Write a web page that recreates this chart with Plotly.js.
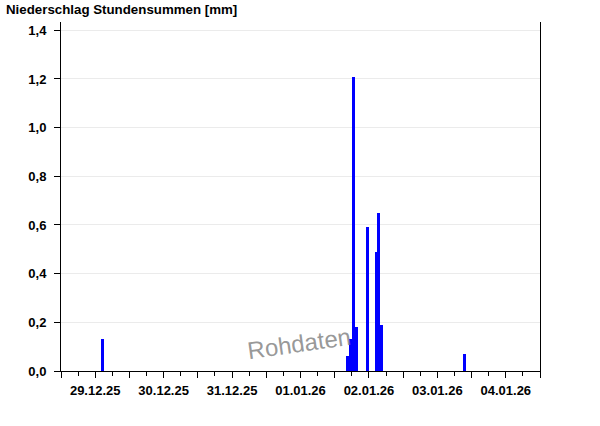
<!DOCTYPE html>
<html>
<head>
<meta charset="utf-8">
<script src="https://cdn.plot.ly/plotly-3.0.1.min.js"></script>
<style>
  html, body { margin: 0; padding: 0; background: #fff; }
  #chart { width: 600px; height: 426px; }
</style>
</head>
<body>
<div id="chart"></div>
<script>
// Hourly precipitation sums (bar centre times) and values in mm
const barTimes = [
  '2025-12-29 14:30',
  '2026-01-02 04:30', '2026-01-02 05:30', '2026-01-02 06:30', '2026-01-02 07:30',
  '2026-01-02 11:30',
  '2026-01-02 14:30', '2026-01-02 15:30', '2026-01-02 16:30',
  '2026-01-03 21:30'
];
const barValues = [0.13, 0.06, 0.13, 1.21, 0.18, 0.59, 0.49, 0.65, 0.19, 0.07];

// x-axis day labels (placed at noon of each day)
const dayDates = ['2025-12-29', '2025-12-30', '2025-12-31', '2026-01-01', '2026-01-02', '2026-01-03', '2026-01-04'];
const dayLabels = ['29.12.25', '30.12.25', '31.12.25', '01.01.26', '02.01.26', '03.01.26', '04.01.26'];

const titleText = 'Niederschlag Stundensummen [mm]';
const watermarkText = 'Rohdaten';

const tickVals = [];
const tickText = [];
dayDates.forEach((d, i) => {
  tickVals.push(d + ' 00:00'); tickText.push('');
  tickVals.push(d + ' 12:00'); tickText.push(dayLabels[i]);
});
tickVals.push('2026-01-05 00:00'); tickText.push('');

const fontFam = '"Liberation Sans", Arial, sans-serif';

const trace = {
  type: 'bar',
  x: barTimes,
  y: barValues,
  width: 3600000,
  marker: { color: '#0000ff', line: { width: 0 } },
  hoverinfo: 'x+y'
};

const layout = {
  width: 600,
  height: 426,
  margin: { l: 61, r: 60, t: 22, b: 55 },
  paper_bgcolor: '#ffffff',
  plot_bgcolor: '#ffffff',
  separators: ',.',
  showlegend: false,
  bargap: 0,
  title: {
    text: titleText,
    xref: 'container', yref: 'container',
    x: 6 / 600, xanchor: 'left',
    y: 1 - 9 / 426, yanchor: 'middle',
    font: { family: fontFam, size: 13.3, color: '#000', weight: 'bold' }
  },
  xaxis: {
    type: 'date',
    range: ['2025-12-29 00:00', '2026-01-05 00:00'],
    tickmode: 'array',
    tickvals: tickVals,
    ticktext: tickText,
    ticks: 'outside',
    ticklen: 6,
    tickwidth: 1,
    tickcolor: '#000',
    showline: true,
    linecolor: '#000',
    linewidth: 1,
    showgrid: false,
    zeroline: false,
    ticklabelstandoff: 1,
    tickfont: { family: fontFam, size: 13, color: '#000', weight: 'bold' },
    minor: { dtick: 21600000, tick0: '2025-12-29', ticks: 'outside', ticklen: 4, tickcolor: '#000', showgrid: false },
    fixedrange: true
  },
  yaxis: {
    range: [0, 1.434],
    dtick: 0.2,
    tick0: 0,
    tickformat: '.1f',
    ticks: 'outside',
    ticklen: 6,
    tickcolor: '#000',
    showline: true,
    mirror: true,
    linecolor: '#000',
    linewidth: 1,
    showgrid: true,
    gridcolor: '#ebebeb',
    gridwidth: 1,
    zeroline: false,
    ticklabelstandoff: 5,
    tickfont: { family: fontFam, size: 13, color: '#000', weight: 'bold' },
    fixedrange: true
  },
  annotations: [{
    text: watermarkText,
    xref: 'paper', yref: 'paper',
    x: (299 - 61) / 479, y: (371 - 343) / 349.3,
    xanchor: 'center', yanchor: 'middle',
    showarrow: false,
    textangle: -8,
    font: { family: fontFam, size: 24, color: 'rgba(125,125,125,0.8)' }
  }]
};

Plotly.newPlot('chart', [trace], layout, { displayModeBar: false, staticPlot: true });
</script>
</body>
</html>
